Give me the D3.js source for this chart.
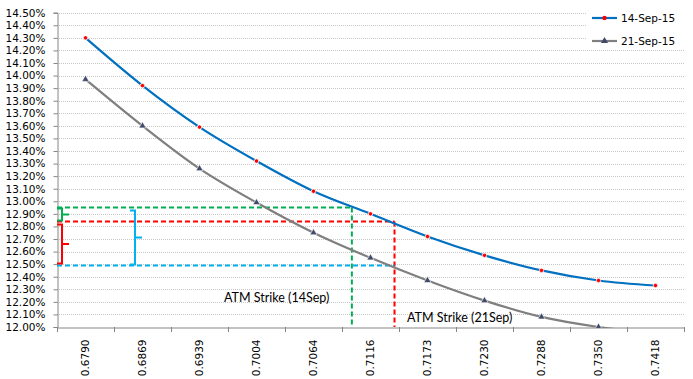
<!DOCTYPE html>
<html>
<head>
<meta charset="utf-8">
<script src="https://cdn.jsdelivr.net/npm/d3@7"></script>
<style>
  body { margin: 0; background: #fff; }
  svg { display: block; }
</style>
</head>
<body>
<svg width="693" height="379"></svg>
<script>
// strikes on the x axis
const strikes = ["0.6790", "0.6869", "0.6939", "0.7004", "0.7064", "0.7116", "0.7173", "0.7230", "0.7288", "0.7350", "0.7418"];
// implied vol (%) per series
const sep14 = [14.30, 13.92, 13.59, 13.32, 13.08, 12.90, 12.72, 12.57, 12.45, 12.37, 12.33];
const sep21 = [13.97, 13.60, 13.26, 12.99, 12.75, 12.55, 12.37, 12.21, 12.08, 12.00, 11.95];
const seriesNames = ["14-Sep-15", "21-Sep-15"];
const yTicks = d3.range(12.0, 14.501, 0.1);
// ATM strikes and the vols read at them
const atm14 = 0.7099, atm21 = 0.7140;
const vol14 = 12.95, vol21 = 12.84, vol21b = 12.49;
const atmLabels = ["ATM Strike (14Sep)", "ATM Strike (21Sep)"];

const margin = { left: 57, right: 9, top: 12.7, bottom: 52 };
const W = 693, H = 379;
let svg = d3.select("svg");

let x = d3.scaleBand().domain(strikes).range([margin.left, W - margin.right]);
let y = d3.scaleLinear().domain([12.0, 14.5]).range([H - margin.bottom, margin.top]);
const bw = x.bandwidth();
// numeric strike -> pixel, piecewise through the band centres
let xs = d3.scaleLinear().domain(strikes.map(Number)).range(strikes.map(s => x(s) + bw / 2));

const font = "DejaVu Sans";

// grid
svg.append("g").selectAll("line").data(yTicks.slice(1)).enter().append("line")
  .attr("x1", margin.left).attr("x2", W - margin.right)
  .attr("y1", d => Math.round(y(d)) + 0.5).attr("y2", d => Math.round(y(d)) + 0.5)
  .attr("stroke", "#c8c8c8").attr("stroke-dasharray", "1,1");

// y axis
let yAxis = svg.append("g")
  .attr("transform", `translate(${margin.left + 0.5},0)`)
  .call(d3.axisLeft(y).tickValues(yTicks).tickFormat(d => d.toFixed(2) + "%").tickSize(4).tickPadding(8));
yAxis.select(".domain").attr("stroke", "#868686");
yAxis.selectAll(".tick line").attr("stroke", "#868686");
yAxis.selectAll("text").attr("font-family", font).attr("font-size", "10.5px").attr("fill", "#000");

// x axis, labels turned on their side
let xAxis = svg.append("g")
  .attr("transform", `translate(0,${y(12.0) + 0.5})`)
  .call(d3.axisBottom(x).tickSize(0));
xAxis.select(".domain").attr("stroke", "#868686");
xAxis.selectAll("text")
  .attr("font-family", font).attr("font-size", "10.5px").attr("fill", "#000")
  .attr("transform", "rotate(-90)")
  .attr("text-anchor", "end")
  .attr("x", -12).attr("y", 0).attr("dy", "0.35em");
// tick marks sit between the categories
svg.append("g").selectAll("line").data(strikes.map(s => x(s)).concat([x.range()[1]])).enter().append("line")
  .attr("x1", d => Math.round(d) + 0.5).attr("x2", d => Math.round(d) + 0.5)
  .attr("y1", y(12.0)).attr("y2", y(12.0) + 5)
  .attr("stroke", "#868686");

// dashed guides
const guides = [
  { color: "#00b050", v: vol14, s: atm14, vert: true },
  { color: "#ff0000", v: vol21, s: atm21, vert: true },
  { color: "#00b0f0", v: vol21b, s: atm21, vert: false }
];
let gg = svg.append("g");
guides.forEach(g => {
  gg.append("line").attr("x1", margin.left).attr("x2", xs(g.s))
    .attr("y1", y(g.v)).attr("y2", y(g.v))
    .attr("stroke", g.color).attr("stroke-width", 2).attr("stroke-dasharray", "5,3");
  if (g.vert) {
    gg.append("line").attr("x1", xs(g.s)).attr("x2", xs(g.s))
      .attr("y1", y(g.v)).attr("y2", y(12.0))
      .attr("stroke", g.color).attr("stroke-width", 2).attr("stroke-dasharray", "5,3");
  }
});

// braces
function brace(x0, top, bot, color) {
  let mid = (top + bot) / 2;
  let p = `M${x0 - 5},${top} L${x0},${top} L${x0},${bot} L${x0 - 5},${bot} M${x0},${mid} L${x0 + 7},${mid}`;
  svg.append("path").attr("d", p).attr("fill", "none").attr("stroke", color).attr("stroke-width", 2);
}
brace(62, y(vol14) + 1, y(vol21) - 1, "#00b050");
brace(62, y(vol21) + 3, y(vol21b) - 2, "#ff0000");
brace(135, y(vol14) + 3, y(vol21b) - 1, "#00b0f0");

// series
svg.append("clipPath").attr("id", "plot").append("rect")
  .attr("x", margin.left).attr("y", 0).attr("width", W).attr("height", y(12.0) + 1);
let line = d3.line().x((d, i) => x(strikes[i]) + bw / 2).y(d => y(d)).curve(d3.curveMonotoneX);
let plot = svg.append("g").attr("clip-path", "url(#plot)");
plot.append("path").datum(sep14).attr("d", line).attr("fill", "none").attr("stroke", "#0070c0").attr("stroke-width", 2.2);
plot.append("path").datum(sep21).attr("d", line).attr("fill", "none").attr("stroke", "#7f7f7f").attr("stroke-width", 2.2);
plot.selectAll(".dot").data(sep14).enter().append("circle")
  .attr("cx", (d, i) => x(strikes[i]) + bw / 2).attr("cy", d => y(d)).attr("r", 2.2)
  .attr("fill", "#ff0000").attr("stroke", "#fff").attr("stroke-width", 0.8);
let tri = d3.symbol().type(d3.symbolTriangle).size(22);
plot.selectAll(".tri").data(sep21).enter().append("path")
  .attr("d", tri)
  .attr("transform", (d, i) => `translate(${x(strikes[i]) + bw / 2},${y(d)})`)
  .attr("fill", "#404a6a").attr("stroke", "#fff").attr("stroke-width", 0.6);

// ATM labels
svg.append("text").attr("x", 224).attr("y", 302).attr("font-family", "Lato").attr("font-size", "12.5px").text(atmLabels[0]);
svg.append("text").attr("x", 407).attr("y", 322).attr("font-family", "Lato").attr("font-size", "12.5px").text(atmLabels[1]);

// legend
let leg = svg.append("g");
leg.append("rect").attr("x", 586).attr("y", 5).attr("width", 100).attr("height", 45).attr("fill", "#fff");
[{ c: "#0070c0", m: "dot" }, { c: "#7f7f7f", m: "tri" }].forEach((s, i) => {
  let ly = 18 + i * 23;
  leg.append("line").attr("x1", 592).attr("x2", 617).attr("y1", ly).attr("y2", ly).attr("stroke", s.c).attr("stroke-width", 2.2);
  if (s.m === "dot") {
    leg.append("circle").attr("cx", 604.5).attr("cy", ly).attr("r", 2.2).attr("fill", "#ff0000");
  } else {
    leg.append("path").attr("d", tri).attr("transform", `translate(604.5,${ly})`).attr("fill", "#404a6a");
  }
  leg.append("text").attr("x", 621).attr("y", ly + 4).attr("font-family", font).attr("font-size", "10.5px").text(seriesNames[i]);
});
</script>
</body>
</html>
